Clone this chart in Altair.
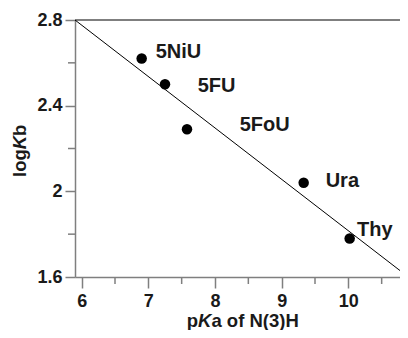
import altair as alt
import pandas as pd

# data
names = ["5NiU", "5FU", "5FoU", "Ura", "Thy"]
pka = [6.9, 7.25, 7.58, 9.33, 10.02]
logkb = [2.62, 2.50, 2.29, 2.04, 1.78]
label_x = [7.11, 7.74, 8.37, 9.66, 10.13]
label_y = [2.65, 2.49, 2.31, 2.05, 1.82]

fit_x = [5.9, 10.9]
fit_y = [2.8, 1.6]

x_major = [6, 7, 8, 9, 10]
x_minor = [6.5, 7.5, 8.5, 9.5, 10.5]
y_major = [1.6, 2.0, 2.4, 2.8]
y_minor = [1.8, 2.2, 2.6]

pts = pd.DataFrame({"name": names, "pka": pka, "logkb": logkb, "lx": label_x, "ly": label_y})
fit = pd.DataFrame({"x": fit_x, "y": fit_y})

FONT = "Liberation Sans"
W, H = 325, 257
TXT = "#1a1a1a"
AX = "#7f7f7f"

xs = alt.Scale(domain=[5.9, 10.775], nice=False, zero=False)
ys = alt.Scale(domain=[1.6, 2.8], nice=False, zero=False)

xaxis = alt.Axis(values=x_major, format="~g",
                 title=None, grid=False, domainColor=AX, domainWidth=1.5,
                 tickColor=AX, tickWidth=1.5, tickSize=11, labelPadding=4,
                 labelFont=FONT, labelFontSize=18, labelFontWeight="bold", labelColor=TXT)
yaxis = alt.Axis(values=y_major, format="~g",
                 title=None, grid=False, domainColor=AX, domainWidth=1.5,
                 tickColor=AX, tickWidth=1.5, tickSize=10, labelPadding=3,
                 labelFont=FONT, labelFontSize=18, labelFontWeight="bold", labelColor=TXT)

base_pts = alt.Chart(pts)

points = base_pts.mark_circle(size=110, color="black", opacity=1).encode(
    x=alt.X("pka:Q", scale=xs, axis=xaxis),
    y=alt.Y("logkb:Q", scale=ys, axis=yaxis),
)

labels = base_pts.mark_text(align="left", baseline="middle", font=FONT, fontSize=20,
                            fontWeight="bold", color=TXT).encode(
    x=alt.X("lx:Q", scale=xs),
    y=alt.Y("ly:Q", scale=ys),
    text="name:N",
)

line = alt.Chart(fit).mark_line(color="black", strokeWidth=1, clip=True).encode(
    x=alt.X("x:Q", scale=xs),
    y=alt.Y("y:Q", scale=ys),
)

topline = alt.Chart(pd.DataFrame({"y": [2.8]})).mark_rule(color="black", strokeWidth=1.2).encode(
    y=alt.Y("y:Q", scale=ys), x=alt.value(0), x2=alt.value(W)
)

xminor = alt.Chart(pd.DataFrame({"x": x_minor})).mark_rule(color=AX, strokeWidth=1.5).encode(
    x=alt.X("x:Q", scale=xs), y=alt.value(H), y2=alt.value(H + 7)
)
yminor = alt.Chart(pd.DataFrame({"y": y_minor})).mark_rule(color=AX, strokeWidth=1.5).encode(
    y=alt.Y("y:Q", scale=ys), x=alt.value(-7), x2=alt.value(0)
)

def txt(s, x, y, align, style="normal", angle=0, baseline="middle"):
    return alt.Chart(pd.DataFrame({"t": [s]})).mark_text(
        align=align, baseline=baseline, font=FONT, fontSize=18.5, fontWeight="bold",
        fontStyle=style, angle=angle, color=TXT
    ).encode(text="t:N", x=alt.value(x), y=alt.value(y))

# y title "logKb" rotated
yt = [
    txt("log", -55, 157, "left", angle=270),
    txt("K", -55, 129.3, "left", style="italic", angle=270),
    txt("b", -55, 116, "left", angle=270),
]
# x title "pKa of N(3)H"
xt = [
    txt("p", 123, 306.5, "right", baseline="alphabetic"),
    txt("K", 123, 306.5, "left", style="italic", baseline="alphabetic"),
    txt("a of N(3)H", 136.4, 306.5, "left", baseline="alphabetic"),
]

chart = alt.layer(topline, xminor, yminor, line, points, labels, *yt, *xt).properties(
    width=W, height=H,
    padding={"left": 67, "top": 12, "right": 0, "bottom": 53},
    autosize=alt.AutoSizeParams(type="none"),
).configure_view(stroke=None)

chart.save("out.html", embed_options={"renderer": "svg", "actions": False})
